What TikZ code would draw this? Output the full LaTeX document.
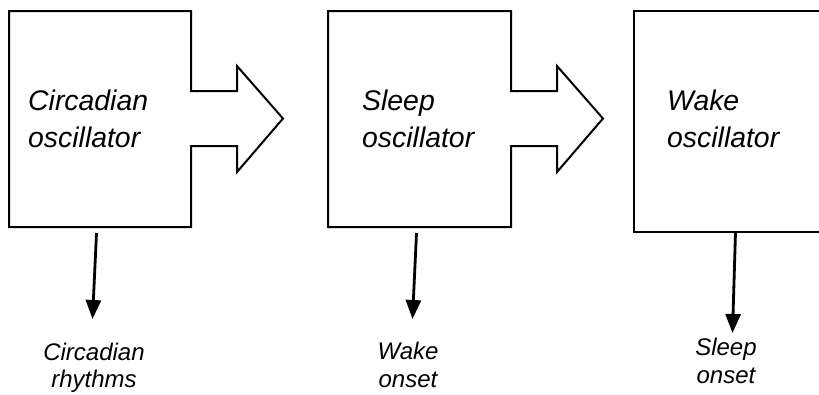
\documentclass[tikz,border=0pt]{standalone}
\usepackage{fontspec}
\setmainfont{Liberation Sans}
\usetikzlibrary{arrows.meta}
\tikzset{
  outline/.style={draw=black, line width=2pt, line join=miter},
  boxtext/.style={anchor=north west, inner sep=0pt, align=left,
    font=\itshape\fontsize{28.4}{37}\selectfont},
  outtext/.style={anchor=north, inner sep=0pt, align=center,
    font=\itshape\fontsize{24}{27.5}\selectfont},
  outarrow/.style={draw=black, line width=2.8pt,
    -{Triangle[length=19pt,width=15pt]}}
}
\begin{document}
\begin{tikzpicture}[x=1pt,y=-1pt]
\clip (0,0) rectangle (819,394);
\fill[white] (0,0) rectangle (819,394);
% box outlines with broad arrows
\draw[outline] (9,11) -- (191,11) -- (191,91) -- (237,91) -- (237,66) -- (283,118.5)
  -- (237,172) -- (237,146) -- (191,146) -- (191,227) -- (9,227) -- cycle;
\draw[outline] (328,11) -- (511,11) -- (511,91) -- (557,91) -- (557,66) -- (603,118.5)
  -- (557,172) -- (557,146) -- (511,146) -- (511,227) -- (328,227) -- cycle;
\draw[outline] (634,11) -- (840,11) -- (840,232) -- (634,232) -- cycle;
% box texts
\node[boxtext] (circ) at (28,89.5) {Circadian\\oscillator};
\node[boxtext] (sleep) at (362,89.5) {Sleep\\oscillator};
\node[boxtext] (wake) at (667,89.5) {Wake\\oscillator};
% output labels
\node[outtext] (lcirc) at (94,342.5) {Circadian\\rhythms};
\node[outtext] (lwake) at (408,342) {Wake\\onset};
\node[outtext] (lsleep) at (726,338) {Sleep\\onset};
% arrow end points
\coordinate (c1s) at (96.5,233);
\coordinate (c1e) at (92.5,319);
\coordinate (c2s) at (416.5,233);
\coordinate (c2e) at (412.5,319);
\coordinate (c3s) at (735.5,232);
\coordinate (c3e) at (732.5,333);
\draw[outarrow] (c1s) -- (c1e);
\draw[outarrow] (c2s) -- (c2e);
\draw[outarrow] (c3s) -- (c3e);
\end{tikzpicture}
\end{document}
